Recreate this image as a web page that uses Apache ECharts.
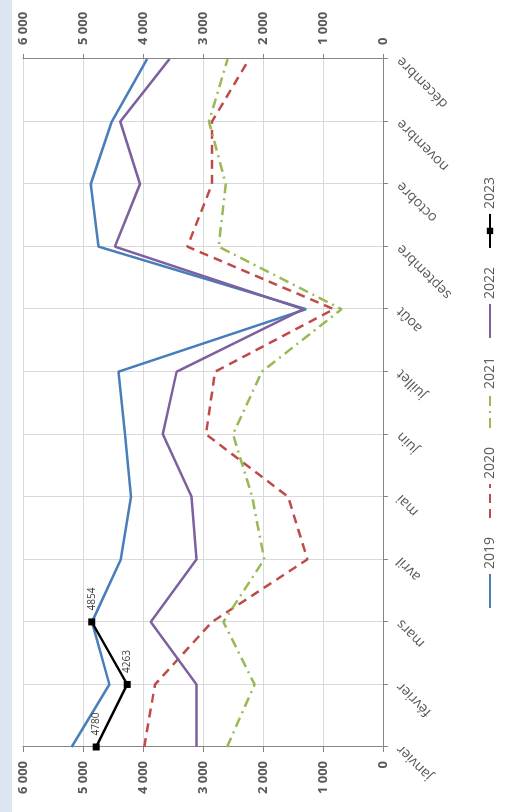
<!DOCTYPE html>
<html>
<head>
<meta charset="utf-8">
<script src="https://cdn.jsdelivr.net/npm/echarts@6/dist/echarts.min.js"></script>
<style>
  html, body { margin: 0; padding: 0; background: #fff; }
  #page { position: relative; width: 506px; height: 812px; overflow: hidden; }
  #strip { position: absolute; left: 0; top: 0; width: 12px; height: 812px; background: #dce6f2; }
  /* the chart is drawn landscape, then turned a quarter turn to the left */
  #chart { position: absolute; left: 0; top: 0; width: 812px; height: 506px;
           transform-origin: 0 0; transform: translate(0, 812px) rotate(-90deg); }
</style>
</head>
<body>
<div id="page">
  <div id="strip"></div>
  <div id="chart"></div>
</div>
<script>
// mois
const months = ['janvier', 'février', 'mars', 'avril', 'mai', 'juin', 'juillet', 'août', 'septembre', 'octobre', 'novembre', 'décembre'];
// valeurs par année
const s2019 = [5190, 4560, 4850, 4370, 4200, 4300, 4410, 1280, 4740, 4870, 4520, 3930];
const s2020 = [3980, 3800, 2850, 1260, 1580, 2950, 2800, 820, 3260, 2850, 2850, 2230];
const s2021 = [2600, 2140, 2660, 1980, 2180, 2500, 2020, 690, 2740, 2620, 2900, 2590];
const s2022 = [3110, 3110, 3870, 3110, 3190, 3670, 3440, 1330, 4470, 4050, 4380, 3560];
const s2023 = [4780, 4263, 4854, null, null, null, null, null, null, null, null, null];
const yearNames = ['2019', '2020', '2021', '2022', '2023'];

const fontFamily = '"Open Sans", "Liberation Sans", sans-serif';
const axisGray = '#868686';
const gridGray = '#d9d9d9';
const textGray = '#595959';

const fmt = v => String(v).replace(/\B(?=(\d{3})+(?!\d))/g, ' ');

const valueAxis = (position, withGrid) => ({
    type: 'value',
    position: position,
    min: 0,
    max: 6000,
    interval: 1000,
    axisLine: { show: true, lineStyle: { color: axisGray, width: 1 } },
    axisTick: { show: true, length: 5, lineStyle: { color: axisGray } },
    axisLabel: { formatter: fmt, color: textGray, fontSize: 13, fontWeight: 'bold', fontFamily: fontFamily, margin: 14 },
    splitLine: { show: withGrid, lineStyle: { color: gridGray, width: 1 } }
});

// only 2023 has a marker in the legend
const legendData = yearNames.map(n => n === '2023' ? { name: n } : { name: n, itemStyle: { opacity: 0 } });

let myChart = echarts.init(document.getElementById('chart'));
let option;

option = {
    backgroundColor: 'transparent',
    animation: false,
    grid: { left: 65, right: 59, top: 23, bottom: 123 },
    legend: {
        data: legendData,
        left: 198,
        top: 478,
        itemWidth: 34,
        itemHeight: 8,
        itemGap: 18,
        textStyle: { color: textGray, fontSize: 14, fontFamily: fontFamily }
    },
    xAxis: {
        type: 'category',
        boundaryGap: false,
        data: months,
        axisLine: { lineStyle: { color: axisGray, width: 1 } },
        axisTick: { show: true, length: 5, lineStyle: { color: axisGray } },
        axisLabel: { rotate: 45, color: textGray, fontSize: 14, fontFamily: fontFamily, margin: 16 },
        splitLine: { show: true, lineStyle: { color: gridGray, width: 1 } }
    },
    yAxis: [valueAxis('left', true), valueAxis('right', false)],
    series: [
        {
            name: '2019', type: 'line', data: s2019, symbol: 'none',
            lineStyle: { color: '#4a7ebb', width: 2.5 }, itemStyle: { color: '#4a7ebb' }
        },
        {
            name: '2020', type: 'line', data: s2020, symbol: 'none',
            lineStyle: { color: '#be4b48', width: 2.5, type: [9, 6] }, itemStyle: { color: '#be4b48' }
        },
        {
            name: '2021', type: 'line', data: s2021, symbol: 'none',
            lineStyle: { color: '#98b954', width: 2.5, type: [10, 5, 2, 5] }, itemStyle: { color: '#98b954' }
        },
        {
            name: '2022', type: 'line', data: s2022, symbol: 'none',
            lineStyle: { color: '#7d60a0', width: 2.5 }, itemStyle: { color: '#7d60a0' }
        },
        {
            name: '2023', type: 'line', data: s2023, symbol: 'rect', symbolSize: 7,
            lineStyle: { color: '#000', width: 2.5 }, itemStyle: { color: '#000' },
            label: { show: true, position: 'right', distance: 8, color: '#404040', fontSize: 10, fontFamily: fontFamily }
        }
    ]
};

option && myChart.setOption(option);
</script>
</body>
</html>
